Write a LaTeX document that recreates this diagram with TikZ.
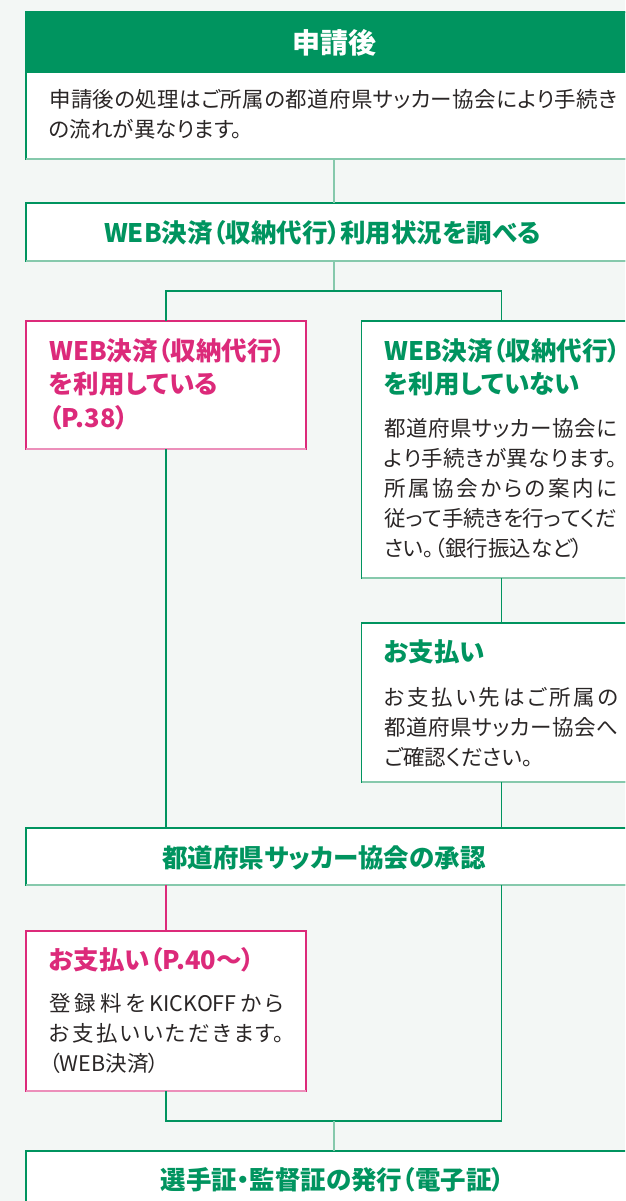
\documentclass[tikz,border=0pt]{standalone}
\usepackage{fontspec}
\newfontfamily\jp[RawFeature=+palt]{Noto Sans CJK JP}
\definecolor{bg}{HTML}{F3F7F5}
\definecolor{jgreen}{HTML}{00945F}
\definecolor{jgreenlt}{HTML}{86C9AC}
\definecolor{jpink}{HTML}{DC2A7A}
\definecolor{jpinklt}{HTML}{EC8FBA}
\definecolor{ink}{HTML}{2A2626}
\setlength{\parindent}{0pt}
\newcommand\bodytext{\jp\fontsize{21.5}{30}\selectfont\XeTeXlinebreaklocale "ja"\XeTeXlinebreakskip=0pt plus 8pt minus 1pt\relax\tolerance=10000\relax}
\newcommand\headtext{\jp\bfseries\fontsize{25.5}{33.5}\selectfont}
\newcommand\toptext{\jp\bfseries\fontsize{28}{34}\selectfont}
\tikzset{
  greenbox/.style={draw=jgreen, fill=white, line width=1.5pt, inner sep=0pt, outer sep=0pt, anchor=north west},
  pinkbox/.style={greenbox, draw=jpink},
  body/.style={font=\bodytext, text=ink, text width=#1, align=justify, inner sep=0pt, anchor=base west},
  headl/.style={font=\headtext, text width=#1, align=flush left, inner sep=0pt, anchor=base west},
  headc/.style={font=\headtext, text=jgreen, inner sep=0pt, anchor=base},
  conn/.style={draw=jgreen, line width=1.5pt},
  connlt/.style={draw=jgreenlt, line width=1.5pt},
  connpk/.style={draw=jpink, line width=1.5pt},
}
\begin{document}
\begin{tikzpicture}[x=1pt,y=-1pt]
\fill[bg] (0,0) rectangle (625,1201);
\useasboundingbox (0,0) rectangle (625,1201);
\clip (0,0) rectangle (625,1201);
\coordinate (lx) at (166,0);
\coordinate (cx) at (334,0);
\coordinate (rx) at (501.5,0);
\coordinate (jn1) at (334,291);
\coordinate (jn2) at (334,1121);
% boxes
\node[greenbox, minimum width=614pt, minimum height=147pt] (b1) at (26,12) {};
\node[greenbox, fill=jgreen, minimum width=614pt, minimum height=60pt] (b1h) at (26,12) {};
\node[greenbox, minimum width=614pt, minimum height=58pt] (b2) at (26,203) {};
\node[pinkbox, minimum width=280pt, minimum height=128pt] (b3) at (26,321) {};
\node[greenbox, minimum width=279pt, minimum height=257pt] (b4) at (361.5,321) {};
\node[greenbox, minimum width=279pt, minimum height=159pt] (b5) at (361.5,623) {};
\node[greenbox, minimum width=614pt, minimum height=57pt] (b6) at (26,828) {};
\node[pinkbox, minimum width=280pt, minimum height=160pt] (b7) at (26,931) {};
\node[greenbox, minimum width=614pt, minimum height=70pt] (b8) at (26,1151) {};
% lighter bottom edges
\foreach \b in {b1,b2,b4,b5,b6}{\draw[connlt] (\b.south west) -- (\b.south east);}
\foreach \b in {b3,b7}{\draw[draw=jpinklt, line width=1.5pt] (\b.south west) -- (\b.south east);}
% texts
\node[font=\toptext, text=white, inner sep=0pt, anchor=base] (t1h) at (334,54) {申請後};
\node[body=568pt] (t1) at (49,108) {申請後の処理はご所属の都道府県サッカー協会により手続き\linebreak の流れが異なります。};
\node[headc] (t2) at (322.5,242) {WEB決済（収納代行）利用状況を調べる};
\node[headl=250pt, text=jpink] (t3) at (49,360) {WEB決済（収納代行）\\を利用している\\（P.38）};
\node[headl=240pt, text=jgreen] (t4h) at (384,360) {WEB決済（収納代行）\\を利用していない};
\node[body=233pt] (t4) at (384,436) {都道府県サッカー協会に\linebreak より手続きが異なります。\linebreak 所属協会からの案内に\linebreak 従って手続きを行ってくだ\linebreak さい。（銀行振込など）};
\node[headl=230pt, text=jgreen] (t5h) at (384,661) {お支払い};
\node[body=234pt] (t5) at (384,705) {お支払い先はご所属の\linebreak 都道府県サッカー協会へ\linebreak ご確認ください。};
\node[headc] (t6) at (324,867) {都道府県サッカー協会の承認};
\node[headl=250pt, text=jpink] (t7h) at (49,969) {お支払い（P.40〜）};
\node[body=235pt] (t7) at (49,1011) {登録料をKICKOFFから\linebreak お支払いいただきます。\linebreak （WEB決済）};
\node[headc] (t8) at (332.5,1189) {選手証・監督証の発行（電子証）};
% connectors
\draw[connlt] (b1.south -| cx) -- (b2.north -| cx);
\draw[connlt] (b2.south -| cx) -- (jn1);
\draw[conn] (b3.north -| lx) |- (jn1) -| (b4.north -| rx);
\draw[conn] (b3.south -| lx) -- (b6.north -| lx);
\draw[conn] (b4.south -| rx) -- (b5.north -| rx);
\draw[conn] (b5.south -| rx) -- (b6.north -| rx);
\draw[connpk] (b6.south -| lx) -- (b7.north -| lx);
\draw[conn] (b7.south -| lx) |- (jn2) -| (b6.south -| rx);
\draw[connlt] (jn2) -- (b8.north -| cx);
\end{tikzpicture}
\end{document}
